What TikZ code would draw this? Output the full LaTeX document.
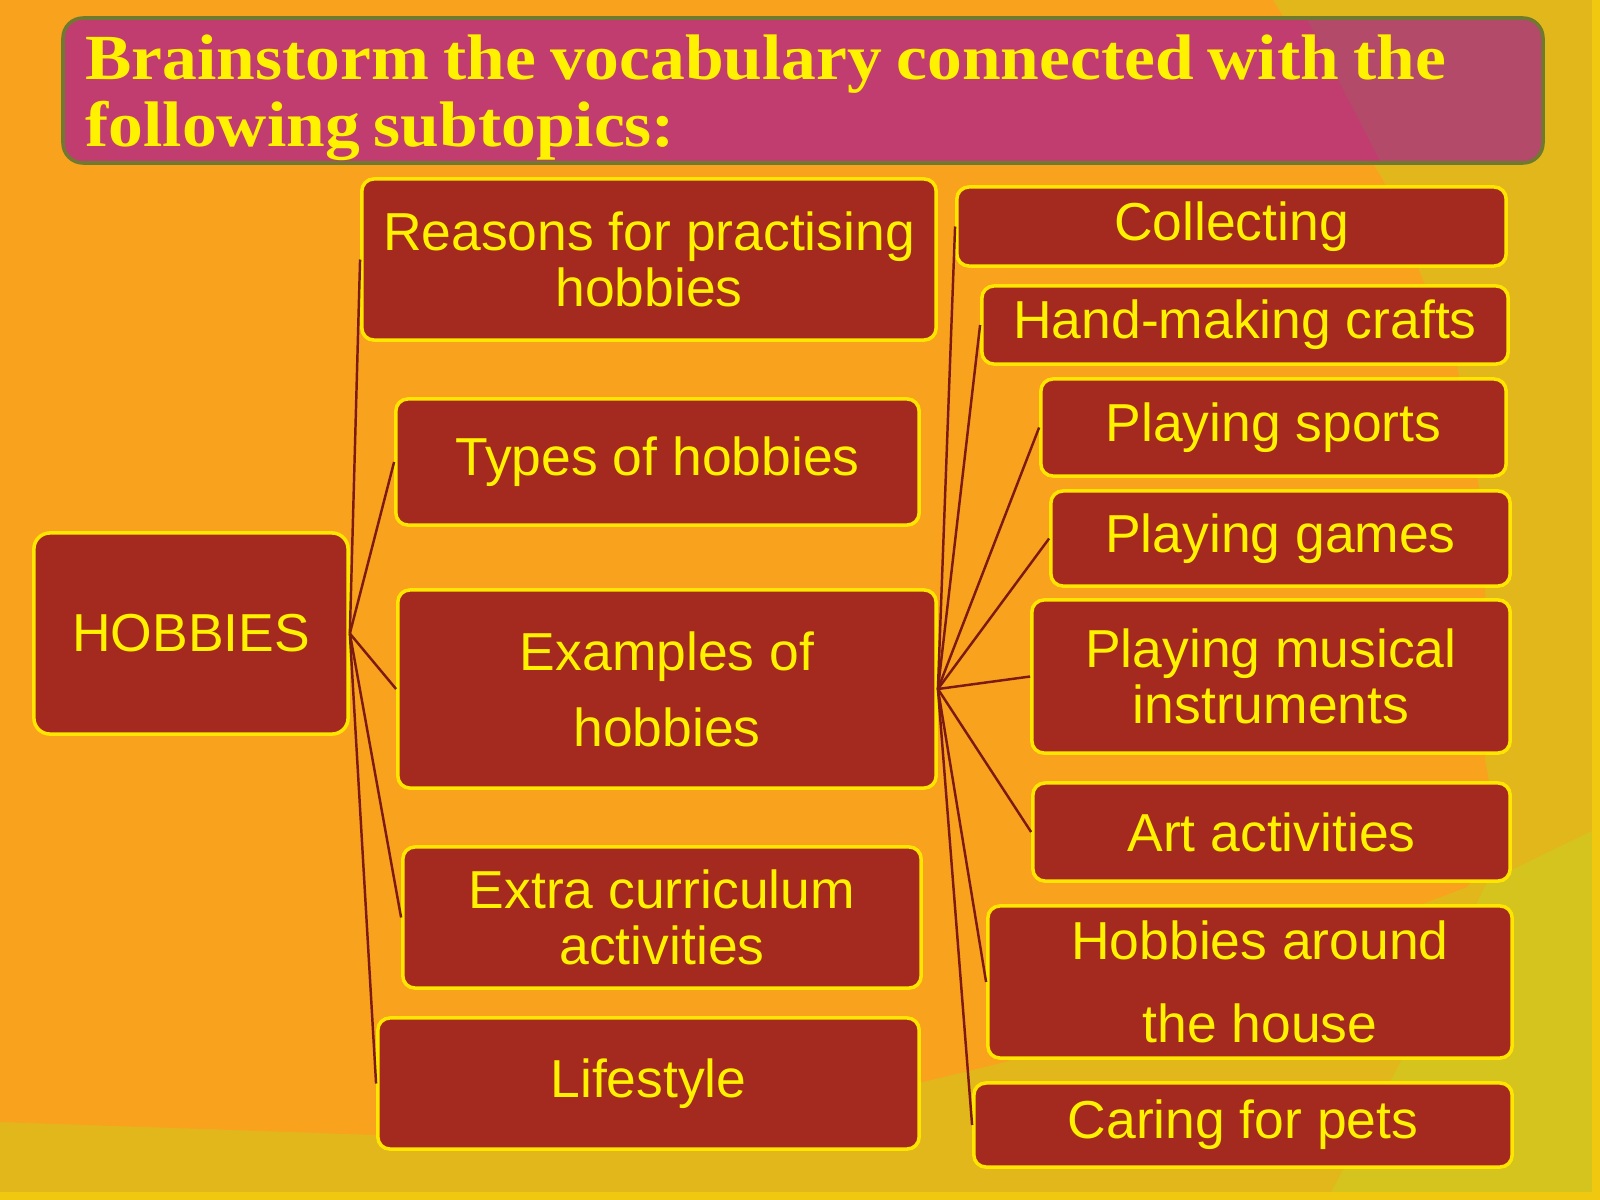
\documentclass[tikz,border=0pt]{standalone}
\usepackage{fontspec}
\setmainfont{Liberation Sans}
\newfontfamily\titlefont[FakeStretch=1.08]{Liberation Serif}
\usepackage{tikz}
\usetikzlibrary{positioning}
\definecolor{bgorange}{HTML}{F9A21E}
\definecolor{bgyellow}{HTML}{E2B71C}
\definecolor{bggreen}{HTML}{D5C31E}
\definecolor{bgstrip}{HTML}{F0C810}
\definecolor{titlepink}{HTML}{C23D6F}
\definecolor{titleright}{HTML}{B34A69}
\definecolor{titleline}{HTML}{6F7A30}
\definecolor{boxred}{HTML}{A4291F}
\definecolor{boxline}{HTML}{FFE600}
\definecolor{boxtext}{HTML}{FFF200}
\definecolor{linkred}{HTML}{7C1A12}
\tikzset{
  topic/.style = {align=center, inner sep=0pt, text centered,
    font=\fontsize{15.2}{16}\selectfont, text=boxtext,
    fill=boxred, draw=boxline, line width=1pt, rounded corners=0.12cm},
  titletext/.style = {inner sep=0pt, align=left, text=yellow,
    font=\titlefont\bfseries\fontsize{18.3}{19.2}\selectfont},
  link/.style = {draw=linkred, line width=0.7pt}
}
\begin{document}
\begin{tikzpicture}[x=0.01cm, y=-0.01cm]
\useasboundingbox (0,0) rectangle (1600,1200);
\fill[bgyellow] (0,0) rectangle (1600,1200);
\fill[bgorange] (0,0) -- (1273,0) -- (1383,180) -- (1457,365) -- (1485,520)
  -- (1485,760) -- (1500,840) -- (1467,887) -- (1005,1062) -- (923,1082)
  -- (378,1135) -- (0,1122) -- cycle;
\fill[bggreen] (1600,827) -- (1487,882) -- (1400,1063) -- (1327,1200) -- (1600,1200) -- cycle;
\fill[bgstrip] (1592,0) rectangle (1600,1200);
\fill[bgstrip] (0,1192) rectangle (1600,1200);

\fill[titlepink, rounded corners=0.2cm] (63,18) rectangle (1543,163);
\begin{scope}
\clip[rounded corners=0.2cm] (63,18) rectangle (1543,163);
\fill[titleright] (1297,0) -- (1390,180) -- (1600,180) -- (1600,0) -- cycle;
\end{scope}
\draw[titleline, line width=1pt, rounded corners=0.2cm] (63,18) rectangle (1543,163);
\node[titletext, text width=14.3cm] (title) at (801,98)
  {\spaceskip=0.22em plus 0.02em\relax Brainstorm the vocabulary connected with the\\following subtopics:};

\node[topic, rounded corners=0.16cm, minimum width=3.14cm, minimum height=2.01cm] (hob) at (191,633.5) {HOBBIES};

\node[topic, minimum width=5.74cm, minimum height=1.61cm] (reas) at (649,259.5) {Reasons for practising\\hobbies};
\node[topic, minimum width=5.23cm, minimum height=1.26cm] (types) at (657.5,462) {Types of hobbies};
\node[topic, minimum width=5.38cm, minimum height=1.98cm] (ex) at (667,689) {Examples of\\[5.6pt]hobbies};
\node[topic, minimum width=5.18cm, minimum height=1.41cm] (extra) at (662,917.5) {Extra curriculum\\activities};
\node[topic, minimum width=5.41cm, minimum height=1.31cm] (life) at (648.5,1083.5) {Lifestyle};

\node[topic, minimum width=5.49cm, minimum height=0.79cm] (coll) at (1231.5,226.5) {Collecting};
\node[topic, minimum width=5.26cm, minimum height=0.78cm] (hand) at (1245,325) {Hand-making crafts};
\node[topic, minimum width=4.65cm, minimum height=0.97cm] (sport) at (1273.5,427.5) {Playing sports};
\node[topic, minimum width=4.59cm, minimum height=0.95cm] (games) at (1280.5,538.5) {Playing games};
\node[topic, minimum width=4.78cm, minimum height=1.53cm] (music) at (1271,676.5) {Playing musical\\instruments};
\node[topic, minimum width=4.77cm, minimum height=0.98cm] (art) at (1271.5,832) {Art activities};
\node[topic, minimum width=5.24cm, minimum height=1.52cm] (house) at (1250,982) {\hspace*{0.2cm}Hobbies around\\[7.6pt]\hspace*{0.2cm}the house};
\node[topic, minimum width=5.38cm, minimum height=0.84cm] (pets) at (1243,1125) {Caring for pets};

\foreach \n in {reas,types,ex,extra,life}
  \draw[link] (hob.east) -- (\n.west);
\foreach \n in {coll,hand,sport,games,music,art,house,pets}
  \draw[link] (ex.east) -- (\n.west);
\end{tikzpicture}
\end{document}
